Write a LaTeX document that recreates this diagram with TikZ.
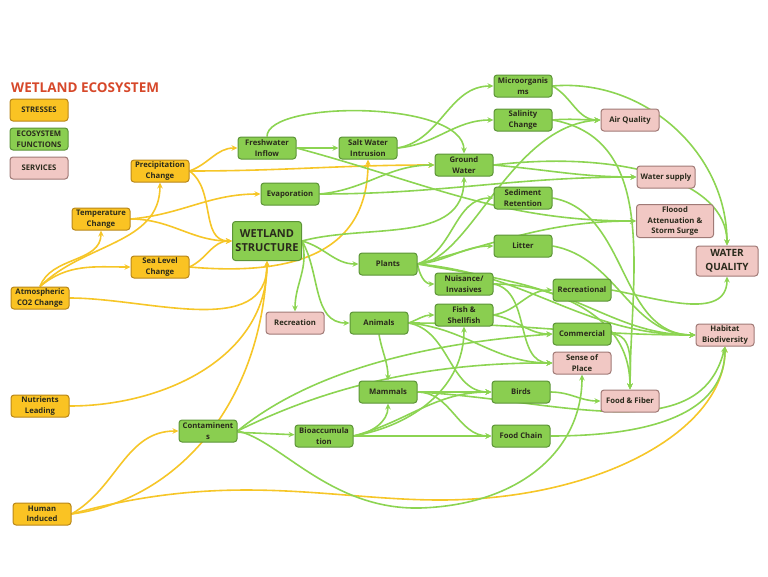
\documentclass[tikz,border=0pt]{standalone}
\usepackage{fontspec}
\setmainfont{Open Sans}
\usepackage{tikz}
\usetikzlibrary{arrows.meta, backgrounds}

\definecolor{titlered}{RGB}{214,72,42}
\definecolor{stressfill}{RGB}{250,195,35}
\definecolor{stressline}{RGB}{185,135,25}
\definecolor{funcfill}{RGB}{138,206,80}
\definecolor{funcline}{RGB}{92,148,55}
\definecolor{servfill}{RGB}{241,200,196}
\definecolor{servline}{RGB}{160,122,118}
\definecolor{yedge}{RGB}{246,198,40}
\definecolor{gedge}{RGB}{140,212,82}
\definecolor{textdark}{RGB}{42,42,28}

\tikzset{
	box/.style={draw, rounded corners=3pt, line width=1pt, minimum width=58pt, minimum height=22pt, inner sep=1pt, align=center, text=textdark, font=\bfseries\fontsize{7.7}{10.5}\selectfont},
	stress/.style={box, fill=stressfill, draw=stressline},
	func/.style={box, fill=funcfill, draw=funcline},
	serv/.style={box, fill=servfill, draw=servline},
	yarrow/.style={-{Stealth[length=6pt,width=5.5pt]}, draw=yedge, line width=1.6pt},
	garrow/.style={-{Stealth[length=6pt,width=5.5pt]}, draw=gedge, line width=1.6pt}
}

\begin{document}
\begin{tikzpicture}[x=1pt, y=-1pt]
				\useasboundingbox (0,0) rectangle (768,576);

				\node (Title) [anchor=west, text=titlered, font=\bfseries\fontsize{13.5}{16}\selectfont, inner sep=0pt] at (11,88) {WETLAND ECOSYSTEM};
				\node (LegStress) [stress] at (39,110) {STRESSES};
				\node (LegFunc) [func] at (39,139) {ECOSYSTEM\\FUNCTIONS};
				\node (LegServ) [serv] at (39,168) {SERVICES};

				\node (Precip) [stress] at (160,171) {Precipitation\\Change};
				\node (Temp) [stress] at (101,219) {Temperature\\Change};
				\node (SeaLevel) [stress] at (160,267) {Sea Level\\Change};
				\node (CO2) [stress] at (40,298) {Atmospheric\\CO2 Change};
				\node (Nutrients) [stress] at (40,406) {Nutrients\\Leading};
				\node (Human) [stress] at (42,514) {Human\\Induced};

				\node (Fresh) [func] at (267,148) {Freshwater\\Inflow};
				\node (Salt) [func] at (368,148) {Salt Water\\Intrusion};
				\node (Evap) [func] at (290,194) {Evaporation};
				\node (Wetland) [func, minimum width=69pt, minimum height=39pt, font=\bfseries\fontsize{11}{14}\selectfont] at (267,241) {WETLAND\\STRUCTURE};
				\node (Ground) [func] at (464,165) {Ground\\Water};
				\node (Micro) [func] at (523,86) {Microorganis\\ms};
				\node (Salinity) [func] at (523,120) {Salinity\\Change};
				\node (Sediment) [func] at (523,198) {Sediment\\Retention};
				\node (Litter) [func] at (523,246) {Litter};
				\node (Plants) [func] at (388,264) {Plants};
				\node (Nuisance) [func] at (464,284) {Nuisance/\\Invasives};
				\node (Fish) [func] at (464,315) {Fish \&\\Shellfish};
				\node (Animals) [func] at (379,323) {Animals};
				\node (Mammals) [func] at (388,392) {Mammals};
				\node (Birds) [func] at (521,392) {Birds};
				\node (Bioacc) [func] at (324,436) {Bioaccumula\\tion};
				\node (FoodChain) [func] at (521,436) {Food Chain};
				\node (Contam) [func] at (208,431) {Contaminent\\s};
				\node (Recreational) [func] at (582,290) {Recreational};
				\node (Commercial) [func] at (582,334) {Commercial};

				\node (Recreation) [serv] at (295,323) {Recreation};
				\node (Air) [serv] at (630,120) {Air Quality};
				\node (Supply) [serv] at (666,177) {Water supply};
				\node (Flood) [serv, minimum width=77pt, minimum height=33pt] at (675,221) {Floood\\Attenuation \&\\Storm Surge};
				\node (WaterQ) [serv, minimum width=62pt, minimum height=30pt, font=\bfseries\fontsize{10}{14}\selectfont] at (727,261) {WATER\\QUALITY};
				\node (Sense) [serv] at (582,363) {Sense of\\Place};
				\node (FoodFiber) [serv] at (630,401) {Food \& Fiber};
				\node (Habitat) [serv] at (725,335) {Habitat\\Biodiversity};

				\begin{scope}[on background layer]
				\draw[yarrow] (Precip.east) to[out=20, in=180] (Fresh.west);
				\draw[yarrow] (Precip.east) to[out=0, in=180] (Ground.west);
				\draw[yarrow] (Precip.east) to[out=-35, in=180] (Wetland.west);
				\draw[yarrow] (CO2.north) to[out=70, in=-90] (Temp.south);
				\draw[yarrow] (CO2.north) to[out=45, in=-90] (Precip.south);
				\draw[yarrow] (CO2.north) to[out=40, in=180] (SeaLevel.west);
				\draw[yarrow] (Temp.east) to[out=5, in=180] (Evap.west);
				\draw[yarrow] (Temp.east) to[out=0, in=180] (Wetland.west);
				\draw[yarrow] (SeaLevel.east) to[out=25, in=180] (Wetland.west);
				\draw[yarrow] (SeaLevel.east) to[out=-5, in=-90, looseness=1.2] (Salt.south);
				\draw[yarrow] (CO2.east) to[out=0, in=-90] (Wetland.south);
				\draw[yarrow] (Nutrients.east) to[out=0, in=-90] (Wetland.south);
				\draw[yarrow] (Human.east) to[out=30, in=180] (Contam.west);
				\draw[yarrow] (Human.east) .. controls (180,500) and (262,400) .. (Wetland.south);
				\draw[yarrow] (Human.east) .. controls (230,470) and (330,500) .. (440,500) .. controls (600,500) and (725,430) .. (Habitat.south);

				\draw[garrow] (Fresh) -- (Salt);
				\draw[garrow] (Fresh.north) .. controls (267,100) and (464,100) .. (Ground.north);
				\draw[garrow] (Fresh.east) to[out=-15, in=180] (Flood.west);
				\draw[garrow] (Salt.east) to[out=10, in=180] (Micro.west);
				\draw[garrow] (Salt.east) to[out=5, in=180] (Salinity.west);
				\draw[garrow] (Evap.east) to[out=5, in=180] (Ground.west);
				\draw[garrow] (Evap.east) to[out=0, in=180] (Supply.west);
				\draw[garrow] (Wetland.east) to[out=15, in=-90] (Ground.south);
				\draw[garrow] (Wetland.east) to[out=-15, in=180] (Plants.west);
				\draw[garrow] (Wetland.east) to[out=-60, in=180] (Animals.west);
				\draw[garrow] (Wetland.east) to[out=-75, in=90] (Recreation.north);
				\draw[garrow] (Ground.east) .. controls (620,150) and (727,180) .. (WaterQ.north);
				\draw[garrow] (Ground.east) to[out=-5, in=180] (Supply.west);
				\draw[garrow] (Micro.east) to[out=-30, in=180] (Air.west);
				\draw[garrow] (Micro.east) to[out=5, in=90] (WaterQ.north);
				\draw[garrow] (Salinity.east) to[out=5, in=180] (Air.west);
				\draw[garrow] (Salinity.east) to[out=-10, in=90] (FoodFiber.north);
				\draw[garrow] (Sediment.east) to[out=-10, in=180] (Habitat.west);
				\draw[garrow] (Litter.east) to[out=-10, in=180] (Habitat.west);
				\draw[garrow] (Plants.east) .. controls (470,262) and (510,125) .. (Air.west);
				\draw[garrow] (Plants.east) to[out=20, in=180] (Sediment.west);
				\draw[garrow] (Plants.east) to[out=5, in=180] (Litter.west);
				\draw[garrow] (Plants.east) to[out=15, in=180] (Flood.west);
				\draw[garrow] (Plants.east) to[out=-80, in=180] (Nuisance.west);
				\draw[garrow] (Plants.east) to[out=-5, in=180] (Habitat.west);
				\draw[garrow] (Plants.east) to[out=-10, in=90] (FoodFiber.north);
				\draw[garrow] (Nuisance.east) to[out=-10, in=180] (Sense.west);
				\draw[garrow] (Nuisance.east) to[out=0, in=180] (Habitat.west);
				\draw[garrow] (Fish.east) to[out=10, in=180] (Recreational.west);
				\draw[garrow] (Fish.east) to[out=-10, in=180] (Commercial.west);
				\draw[garrow] (Animals.east) to[out=20, in=180] (Fish.west);
				\draw[garrow] (Animals.south) to[out=-80, in=90] (Mammals.north);
				\draw[garrow] (Animals.east) to[out=-10, in=180] (Birds.west);
				\draw[garrow] (Animals.east) to[out=-5, in=180] (Sense.west);
				\draw[garrow] (Animals.east) to[out=0, in=180] (Habitat.west);
				\draw[garrow] (Mammals) -- (Birds);
				\draw[garrow] (Mammals.east) to[out=0, in=180] (FoodChain.west);
				\draw[garrow] (Mammals.east) .. controls (560,400) and (700,450) .. (Habitat.south);
				\draw[garrow] (Birds.east) to[out=0, in=180] (FoodFiber.west);
				\draw[garrow] (FoodChain.east) to[out=0, in=-90] (Habitat.south);
				\draw[garrow] (Bioacc.east) to[out=10, in=-90] (Mammals.south);
				\draw[garrow] (Bioacc.east) to[out=10, in=-90] (Fish.south);
				\draw[garrow] (Bioacc.east) to[out=15, in=180] (Birds.west);
				\draw[garrow] (Bioacc) -- (FoodChain);
				\draw[garrow] (Contam) -- (Bioacc);
				\draw[garrow] (Contam.east) .. controls (300,380) and (400,345) .. (Commercial.west);
				\draw[garrow] (Contam.east) .. controls (300,400) and (400,362) .. (Sense.west);
				\draw[garrow] (Contam.east) .. controls (280,440) and (330,510) .. (420,508) .. controls (520,505) and (582,450) .. (Sense.south);
				\draw[garrow] (Commercial.east) to[out=0, in=90] (FoodFiber.north);
				\draw[garrow] (Recreational.east) to[out=-10, in=-90] (WaterQ.south);
				\end{scope}
			\end{tikzpicture}
\end{document}
